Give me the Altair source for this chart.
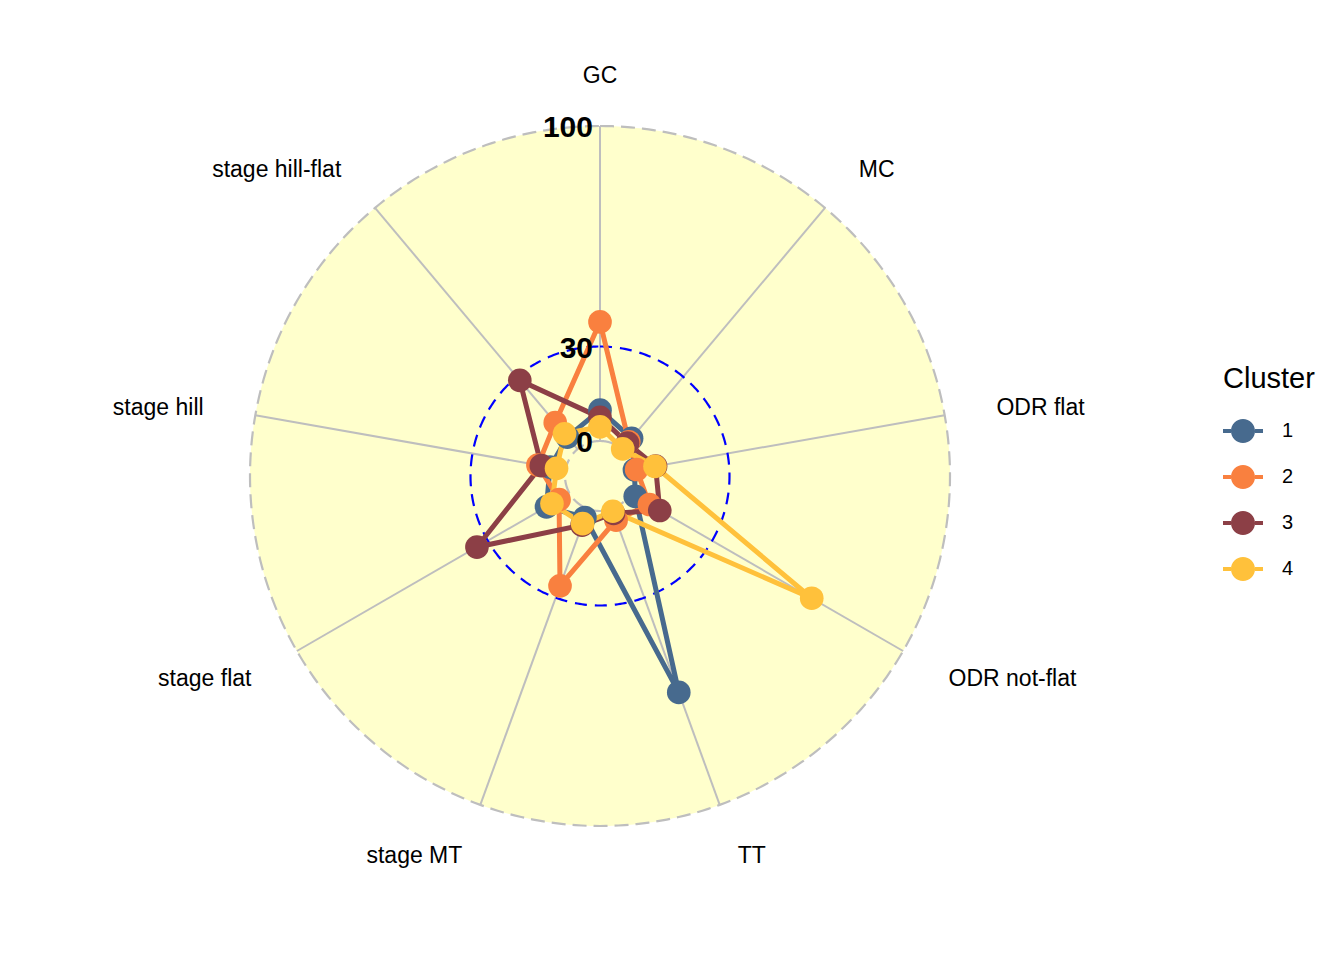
import altair as alt
import pandas as pd
import numpy as np

# ---- data ----
axes_names = ["GC", "MC", "ODR flat", "ODR not-flat", "TT",
              "stage MT", "stage flat", "stage hill", "stage hill-flat"]
clusters = ["1", "2", "3", "4"]
cluster1 = [9.8, 4.5, 0.0, 1.8, 62.0, 2.9, 8.5, 5.0, 5.0]
cluster2 = [37.8, 3.1, 0.7, 7.0, 3.8, 26.0, 3.9, 8.9, 11.0]
cluster3 = [7.5, 2.5, 6.8, 10.8, 1.5, 5.5, 34.0, 7.8, 28.5]
cluster4 = [4.5, 0.1, 6.6, 66.5, 0.8, 5.0, 6.5, 2.9, 6.4]
grid_values = [0, 30, 100]
grid_labels = ["0", "30", "100"]
colors = ["#476A8E", "#F9803F", "#8C3F46", "#FFC13B"]

GMIN, GMAX = 0.0, 100.0
CENTRE = GMIN - (GMAX - GMIN) / 9.0  # ggradar centre offset

rows = []
for c, vals in zip(clusters, [cluster1, cluster2, cluster3, cluster4]):
    for i, v in enumerate(vals + [vals[0]]):
        rows.append({"cluster": c, "idx": i, "value": v})
df = pd.DataFrame(rows)
axes_df = pd.DataFrame({"name": axes_names, "idx": list(range(len(axes_names)))})
grid_df = pd.DataFrame({"v": grid_values, "label": grid_labels})

N = len(axes_names)
span = GMAX - CENTRE
r_expr = f"(datum.value - ({CENTRE})) / {span}"
th_expr = f"datum.idx * 2 * PI / {N}"

R_PX = 350.0
sx = alt.Scale(domain=[-592 / R_PX, 728 / R_PX], nice=False, zero=False)
sy = alt.Scale(domain=[-472 / R_PX, 468 / R_PX], nice=False, zero=False)

def X(f):
    return alt.X(f, type="quantitative", scale=sx, axis=None)

def Y(f):
    return alt.Y(f, type="quantitative", scale=sy, axis=None)

r_of = lambda v: (v - CENTRE) / span

# background disc
bg = alt.Chart(pd.DataFrame({"dummy": [0]})).transform_calculate(
    t="sequence(-90, 90.5, 0.5)"
).transform_flatten(["t"]).transform_calculate(
    bx="sin(datum.t * PI / 180)",
    by="cos(datum.t * PI / 180)",
    by2="-cos(datum.t * PI / 180)",
).mark_area(color="#FFFFCC", opacity=1).encode(
    x=X("bx"), y=Y("by"), y2="by2:Q"
)

def circle(rr, color, dash, width):
    return alt.Chart(pd.DataFrame({"dummy": [0]})).transform_calculate(
        t="sequence(0, 361, 1)"
    ).transform_flatten(["t"]).transform_calculate(
        cx=f"{rr} * sin(datum.t * PI / 180)",
        cy=f"{rr} * cos(datum.t * PI / 180)",
    ).mark_line(color=color, strokeDash=dash, strokeWidth=width).encode(
        x=X("cx"), y=Y("cy"), order="t:Q"
    )

outer = circle(r_of(100), "#BEBEBE", [14, 7], 2.2)
mid = circle(r_of(30), "#0000FF", [12, 8], 2.2)
inner = circle(r_of(0), "#BEBEBE", [14, 7], 2.2)

axis_lines = alt.Chart(axes_df).transform_calculate(
    th=th_expr,
    ax1=f"{r_of(0)} * sin(datum.th)", ay1=f"{r_of(0)} * cos(datum.th)",
    ax2=f"{r_of(100)} * sin(datum.th)", ay2=f"{r_of(100)} * cos(datum.th)",
).mark_rule(color="#BEBEBE", strokeWidth=2).encode(
    x=X("ax1"), y=Y("ay1"), x2="ax2:Q", y2="ay2:Q"
)

color_scale = alt.Scale(domain=clusters, range=colors)
sym_path = ("M 0.6 0 A 0.6 0.6 0 1 1 -0.6 0 A 0.6 0.6 0 1 1 0.6 0 Z "
            "M -1 -0.1 L -0.598 -0.1 L -0.598 0.1 L -1 0.1 Z "
            "M 0.598 -0.1 L 1 -0.1 L 1 0.1 L 0.598 0.1 Z")

legend = alt.Legend(
    title="Cluster", orient="none", legendX=1215, legendY=357,
    symbolType=sym_path, symbolSize=1600, symbolStrokeWidth=0,
    symbolOpacity=1, titleFontSize=29, titleFontWeight="normal",
    titleFont="Liberation Sans", labelFont="Liberation Sans",
    labelFontSize=20, labelOffset=19, rowPadding=14, titlePadding=17,
    titleColor="#000000", labelColor="#000000", padding=0,
)

base = alt.Chart(df).transform_calculate(
    th=th_expr, r=r_expr
).transform_calculate(
    px="datum.r * sin(datum.th)", py="datum.r * cos(datum.th)"
)

lines = base.mark_line(strokeWidth=5).encode(
    x=X("px"), y=Y("py"),
    color=alt.Color("cluster:N", scale=color_scale, legend=legend),
    detail="cluster:N",
    order="idx:Q",
)

points = base.transform_filter(f"datum.idx < {N}").mark_circle(size=560, opacity=1).encode(
    x=X("px"), y=Y("py"),
    color=alt.Color("cluster:N", scale=color_scale, legend=legend),
)

lab_base = alt.Chart(axes_df).transform_calculate(
    th=th_expr
).transform_calculate(
    lx="1.15 * sin(datum.th)", ly="1.15 * cos(datum.th)"
)

def labels(filter_expr, align):
    return lab_base.transform_filter(filter_expr).mark_text(
        align=align, baseline="middle", fontSize=23, font="Liberation Sans",
        color="#000000", dy=2
    ).encode(x=X("lx"), y=Y("ly"), text="name:N")

lab_c = labels("abs(datum.lx) < 0.05", "center")
lab_l = labels("datum.lx >= 0.05", "left")
lab_r = labels("datum.lx <= -0.05", "right")

grid_text = alt.Chart(grid_df).transform_calculate(
    gx="-0.02", gy=f"(datum.v - ({CENTRE})) / {span}"
).mark_text(
    align="right", baseline="middle", fontSize=30, fontWeight="bold",
    font="Liberation Sans", color="#000000", dy=2
).encode(x=X("gx"), y=Y("gy"), text="label:N")

chart = alt.layer(
    bg, outer, axis_lines, inner, mid, lines, points, grid_text, lab_c, lab_l, lab_r
).properties(
    width=1320, height=940, padding=0, autosize=alt.AutoSizeParams(type="none"),
    background="white",
).configure_view(stroke=None)

chart.save("out.html", embed_options={"renderer": "svg", "actions": False})
